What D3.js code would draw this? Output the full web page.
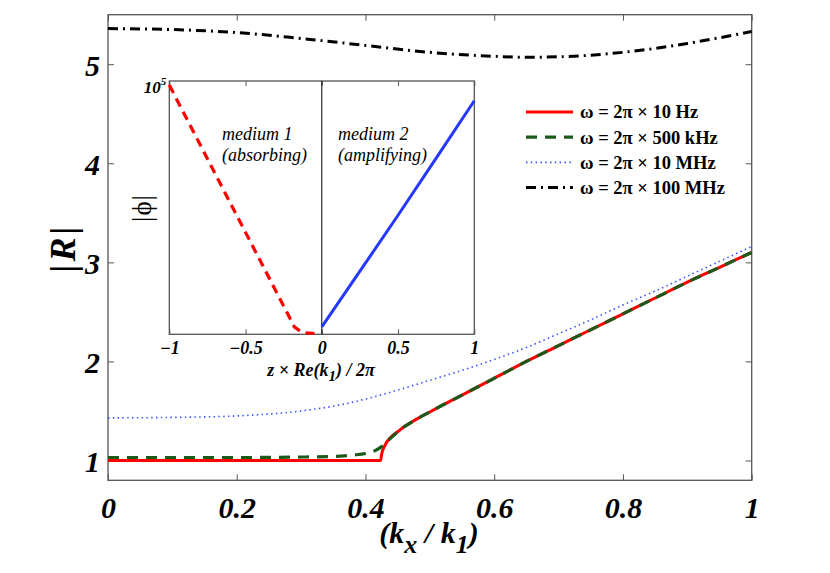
<!DOCTYPE html>
<html>
<head>
<meta charset="utf-8">
<script src="https://cdn.jsdelivr.net/npm/d3@7"></script>
<style>
  body { margin: 0; background: #fff; }
  text { font-family: "Liberation Serif", "DejaVu Serif", serif; }
</style>
</head>
<body>
<div id="container"></div>
<script>
/* CONSTANTS AND GLOBALS */
const width = 830, height = 573;
const main = { left: 108, right: 751.7, top: 14.7, bottom: 480.3 };
const inset = { left: 169.3, right: 474.3, top: 81, bottom: 334.3 };

/* DATA */
const xTicks = [0, 0.2, 0.4, 0.6, 0.8, 1];
const yTicks = [1, 2, 3, 4, 5];
const insetXTicks = [-1, -0.5, 0, 0.5, 1];

// omega = 2pi x 10 Hz
const kx10Hz = [0, 0.1, 0.2, 0.3, 0.4, 0.4236, 0.425, 0.43, 0.44, 0.45, 0.46, 0.47, 0.48, 0.5, 0.52, 0.55, 0.6, 0.65, 0.7, 0.75, 0.8, 0.85, 0.9, 0.95, 1];
const r10Hz = [1.0, 1.0, 1.0, 1.0, 1.0, 1.0, 1.06, 1.15, 1.24, 1.29, 1.34, 1.38, 1.42, 1.49, 1.56, 1.66, 1.83, 2.0, 2.16, 2.32, 2.48, 2.64, 2.8, 2.95, 3.1];
// omega = 2pi x 500 kHz
const kx500kHz = [0, 0.1, 0.2, 0.3, 0.35, 0.38, 0.4, 0.415, 0.425, 0.435, 0.445, 0.46, 0.47, 0.48, 0.5, 0.52, 0.55, 0.6, 0.65, 0.7, 0.75, 0.8, 0.85, 0.9, 0.95, 1];
const r500kHz = [1.03, 1.03, 1.03, 1.035, 1.04, 1.055, 1.07, 1.1, 1.14, 1.2, 1.26, 1.34, 1.38, 1.42, 1.49, 1.56, 1.66, 1.83, 2.0, 2.16, 2.32, 2.48, 2.64, 2.8, 2.95, 3.1];
// omega = 2pi x 10 MHz
const kx10MHz = [0, 0.1, 0.2, 0.3, 0.36, 0.4, 0.45, 0.5, 0.55, 0.6, 0.65, 0.7, 0.75, 0.8, 0.85, 0.9, 0.95, 1];
const r10MHz = [1.43, 1.435, 1.45, 1.5, 1.56, 1.62, 1.71, 1.81, 1.91, 2.02, 2.14, 2.28, 2.42, 2.57, 2.71, 2.86, 3.01, 3.16];
// omega = 2pi x 100 MHz
const kx100MHz = [0, 0.1, 0.2, 0.3, 0.4, 0.5, 0.6, 0.65, 0.7, 0.8, 0.9, 1];
const r100MHz = [5.36, 5.35, 5.32, 5.26, 5.19, 5.12, 5.08, 5.07, 5.075, 5.12, 5.21, 5.33];

// inset |phi| along z
const zAbsorbing = [-1, -0.8, -0.6, -0.4, -0.25, -0.18, -0.14, -0.1, -0.06, -0.03];
const phiAbsorbing = [83000, 5700, 390, 27, 3.6, 1.4, 1.15, 1.07, 1.04, 1.03];
const zAmplifying = [0, 0.25, 0.5, 0.75, 1];
const phiAmplifying = [1.4, 17.6, 224, 3000, 40700];

const series = [
  { label: "ω = 2π × 10 Hz", x: kx10Hz, y: r10Hz, color: "#ff0000", width: 3, dash: null },
  { label: "ω = 2π × 500 kHz", x: kx500kHz, y: r500kHz, color: "#1c5a1c", width: 3.2, dash: "11,8" },
  { label: "ω = 2π × 10 MHz", x: kx10MHz, y: r10MHz, color: "#3a55ff", width: 1.6, dash: "1.5,3.3" },
  { label: "ω = 2π × 100 MHz", x: kx100MHz, y: r100MHz, color: "#000000", width: 3, dash: "10,5,2,5" }
];

const svg = d3.select("#container")
  .append("svg")
  .attr("width", width)
  .attr("height", height);

/* MAIN SCALES */
const xScale = d3.scaleLinear().domain([0, 1]).range([main.left, main.right]);
const yScale = d3.scaleLinear().domain([0.8, 5.5]).range([main.bottom, main.top]);

const tickFont = g => g.selectAll(".tick text")
  .attr("font-family", "Liberation Serif")
  .attr("font-weight", "bold")
  .attr("font-style", "italic")
  .attr("fill", "#000");

// axes (ticks pointing inward on all four sides)
svg.append("g")
  .attr("transform", `translate(0, ${main.bottom})`)
  .call(d3.axisBottom(xScale).tickValues(xTicks).tickSize(-6).tickPadding(12).tickFormat(d3.format("")))
  .call(g => g.select(".domain").remove())
  .call(tickFont)
  .call(g => g.selectAll(".tick text").attr("font-size", 30).attr("dy", "0.85em"))
  .call(g => g.selectAll(".tick line").attr("stroke", "#555"));

svg.append("g")
  .attr("transform", `translate(0, ${main.top})`)
  .call(d3.axisTop(xScale).tickValues(xTicks).tickSize(-6).tickFormat(""))
  .call(g => g.select(".domain").remove())
  .call(g => g.selectAll(".tick line").attr("stroke", "#555"));

svg.append("g")
  .attr("transform", `translate(${main.left}, 0)`)
  .call(d3.axisLeft(yScale).tickValues(yTicks).tickSize(-6).tickPadding(8).tickFormat(d3.format("")))
  .call(g => g.select(".domain").remove())
  .call(tickFont)
  .call(g => g.selectAll(".tick text").attr("font-size", 30).attr("dy", "0.36em"))
  .call(g => g.selectAll(".tick line").attr("stroke", "#555"));

svg.append("g")
  .attr("transform", `translate(${main.right}, 0)`)
  .call(d3.axisRight(yScale).tickValues(yTicks).tickSize(-6).tickFormat(""))
  .call(g => g.select(".domain").remove())
  .call(g => g.selectAll(".tick line").attr("stroke", "#555"));

svg.append("rect")
  .attr("x", main.left)
  .attr("y", main.top)
  .attr("width", main.right - main.left)
  .attr("height", main.bottom - main.top)
  .attr("fill", "none")
  .attr("stroke", "#555")
  .attr("stroke-width", 1.3);

/* MAIN CURVES */
const line = d3.line()
  .x(d => xScale(d[0]))
  .y(d => yScale(d[1]))
  .curve(d3.curveMonotoneX);

svg.append("g")
  .selectAll("path.curve")
  .data(series)
  .join("path")
  .attr("class", "curve")
  .attr("d", s => line(s.x.map((v, i) => [v, s.y[i]])))
  .attr("fill", "none")
  .attr("stroke", s => s.color)
  .attr("stroke-width", s => s.width)
  .attr("stroke-dasharray", s => s.dash);

// axis labels
svg.append("text")
  .attr("transform", "translate(75, 248) rotate(-90)")
  .attr("text-anchor", "middle")
  .attr("font-size", 36)
  .attr("font-weight", "bold")
  .attr("font-style", "italic")
  .attr("letter-spacing", 3)
  .text("|R|");

const xLabel = svg.append("text")
  .attr("x", 429)
  .attr("y", 543)
  .attr("text-anchor", "middle")
  .attr("font-size", 30)
  .attr("font-weight", "bold")
  .attr("font-style", "italic");
xLabel.append("tspan").text("(k");
xLabel.append("tspan").attr("dy", 10).attr("font-size", 26).text("x");
xLabel.append("tspan").attr("dy", -10).text(" / k");
xLabel.append("tspan").attr("dy", 10).attr("font-size", 26).text("1");
xLabel.append("tspan").attr("dy", -10).text(")");

/* LEGEND */
const legend = svg.append("g")
  .attr("transform", "translate(526, 112)");

const legendRow = legend.selectAll("g")
  .data(series)
  .join("g")
  .attr("transform", (d, i) => `translate(0, ${i * 25.2})`);

legendRow.append("line")
  .attr("x1", 0)
  .attr("x2", 47)
  .attr("stroke", d => d.color)
  .attr("stroke-width", d => d.width)
  .attr("stroke-dasharray", d => d.dash);

legendRow.append("text")
  .attr("x", 54)
  .attr("dy", "0.35em")
  .attr("font-size", 18.5)
  .attr("font-weight", "bold")
  .text(d => d.label);

/* INSET */
const ix = d3.scaleLinear().domain([-1, 1]).range([inset.left, inset.right]);
const iy = d3.scaleLog().domain([1, 1e5]).range([inset.bottom, inset.top]);

const insetG = svg.append("g");

insetG.append("rect")
  .attr("x", inset.left)
  .attr("y", inset.top)
  .attr("width", inset.right - inset.left)
  .attr("height", inset.bottom - inset.top)
  .attr("fill", "#fff");

insetG.append("g")
  .attr("transform", `translate(0, ${inset.bottom})`)
  .call(d3.axisBottom(ix).tickValues(insetXTicks).tickSize(-5).tickPadding(6).tickFormat(d => d3.format("")(d).replace("-", "\u2212")))
  .call(g => g.select(".domain").remove())
  .call(tickFont)
  .call(g => g.selectAll(".tick text").attr("font-size", 18).attr("dy", "0.78em"))
  .call(g => g.selectAll(".tick line").attr("stroke", "#555"));

insetG.append("g")
  .attr("transform", `translate(0, ${inset.top})`)
  .call(d3.axisTop(ix).tickValues(insetXTicks).tickSize(-5).tickFormat(""))
  .call(g => g.select(".domain").remove())
  .call(g => g.selectAll(".tick line").attr("stroke", "#555"));

insetG.append("rect")
  .attr("x", inset.left)
  .attr("y", inset.top)
  .attr("width", inset.right - inset.left)
  .attr("height", inset.bottom - inset.top)
  .attr("fill", "none")
  .attr("stroke", "#555")
  .attr("stroke-width", 1.3);

// interface between the two media
insetG.append("line")
  .attr("x1", ix(0))
  .attr("x2", ix(0))
  .attr("y1", inset.top)
  .attr("y2", inset.bottom)
  .attr("stroke", "#000")
  .attr("stroke-width", 1);

const insetLine = d3.line()
  .x(d => ix(d[0]))
  .y(d => iy(d[1]));

insetG.append("path")
  .attr("d", insetLine(zAbsorbing.map((z, i) => [z, phiAbsorbing[i]])))
  .attr("fill", "none")
  .attr("stroke", "#ff0000")
  .attr("stroke-width", 3.2)
  .attr("stroke-dasharray", "9,6");

insetG.append("path")
  .attr("d", insetLine(zAmplifying.map((z, i) => [z, phiAmplifying[i]])))
  .attr("fill", "none")
  .attr("stroke", "#2438ff")
  .attr("stroke-width", 3);

// inset y tick label 10^5
const tenFive = insetG.append("text")
  .attr("x", inset.left - 3)
  .attr("y", iy(1e5) + 12)
  .attr("text-anchor", "end")
  .attr("font-size", 17)
  .attr("font-weight", "bold")
  .attr("font-style", "italic");
tenFive.append("tspan").text("10");
tenFive.append("tspan").attr("dy", -8).attr("font-size", 11).text("5");

insetG.append("text")
  .attr("transform", "translate(151, 208) rotate(-90)")
  .attr("text-anchor", "middle")
  .attr("font-size", 27)
  .attr("letter-spacing", 1)
  .text("|ϕ|");

const insetXLabel = insetG.append("text")
  .attr("x", 321)
  .attr("y", 376)
  .attr("text-anchor", "middle")
  .attr("font-size", 18)
  .attr("font-weight", "bold")
  .attr("font-style", "italic");
insetXLabel.append("tspan").text("z × Re(k");
insetXLabel.append("tspan").attr("dy", 5).attr("font-size", 15).text("1");
insetXLabel.append("tspan").attr("dy", -5).text(") / 2π");

// medium annotations
const media = [
  { x: 222, lines: ["medium 1", "(absorbing)"] },
  { x: 338, lines: ["medium 2", "(amplifying)"] }
];
media.forEach(m => {
  m.lines.forEach((t, i) => {
    insetG.append("text")
      .attr("x", m.x)
      .attr("y", 140 + i * 21)
      .attr("font-size", 18)
      .attr("font-style", "italic")
      .text(t);
  });
});
</script>
</body>
</html>
